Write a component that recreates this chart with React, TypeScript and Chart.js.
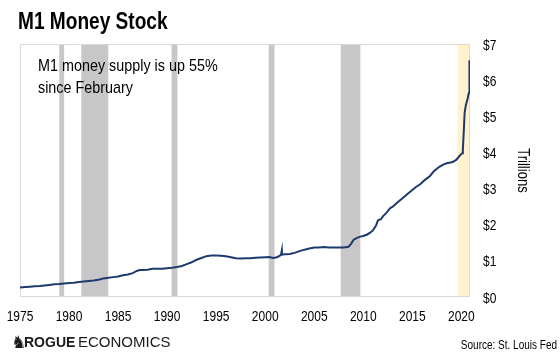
import React, { useEffect, useRef } from "react";
import { Chart, registerables } from "chart.js";

Chart.register(...registerables);

// Decimal year of each observation
const years = [
  1975.0, 1975.5, 1976.0, 1976.5, 1977.0, 1977.5, 1978.0, 1978.5, 1979.0, 1979.5,
  1980.0, 1980.5, 1981.0, 1981.5, 1982.0, 1982.5, 1983.0, 1983.5, 1984.0, 1984.5,
  1985.0, 1985.5, 1986.0, 1986.5, 1986.9, 1987.2, 1987.5, 1988.0, 1988.5, 1989.0,
  1989.5, 1990.0, 1990.5, 1991.0, 1991.5, 1992.0, 1992.5, 1993.0, 1993.5, 1994.0,
  1994.5, 1995.0, 1995.5, 1996.0, 1996.5, 1997.0, 1997.5, 1998.0, 1998.5, 1999.0,
  1999.5, 2000.0, 2000.4, 2000.8, 2001.2, 2001.6, 2001.7, 2001.72, 2002.0, 2002.5,
  2003.0, 2003.5, 2004.0, 2004.5, 2005.0, 2005.5, 2006.0, 2006.5, 2007.0, 2007.5,
  2008.0, 2008.5, 2008.75, 2009.0, 2009.3, 2009.7, 2010.0, 2010.4, 2010.7, 2011.0,
  2011.3, 2011.5, 2011.8, 2012.0, 2012.4, 2012.7, 2013.0, 2013.5, 2014.0, 2014.5,
  2015.0, 2015.4, 2015.8, 2016.2, 2016.8, 2017.2, 2017.5, 2017.8, 2018.2, 2018.5,
  2018.9, 2019.15, 2019.5, 2019.8, 2020.1, 2020.15, 2020.25, 2020.33, 2020.45, 2020.55,
  2020.65, 2020.72, 2020.78, 2020.81, 2020.84,
];

// M1 money stock, trillions of dollars
const m1Trillions = [
  0.26, 0.275, 0.285, 0.295, 0.305, 0.32, 0.335, 0.35, 0.36, 0.375,
  0.385, 0.395, 0.415, 0.43, 0.445, 0.455, 0.48, 0.515, 0.53, 0.55,
  0.565, 0.6, 0.625, 0.66, 0.72, 0.745, 0.75, 0.755, 0.78, 0.785,
  0.78, 0.795, 0.81, 0.83, 0.86, 0.91, 0.96, 1.03, 1.08, 1.13,
  1.145, 1.145, 1.14, 1.125, 1.1, 1.075, 1.065, 1.07, 1.075, 1.085,
  1.095, 1.1, 1.105, 1.08, 1.1, 1.16, 1.3, 1.17, 1.18, 1.19,
  1.22, 1.27, 1.31, 1.34, 1.37, 1.37, 1.38, 1.37, 1.37, 1.37,
  1.37, 1.39, 1.47, 1.58, 1.63, 1.67, 1.69, 1.73, 1.78, 1.85,
  1.98, 2.12, 2.15, 2.23, 2.34, 2.45, 2.5, 2.62, 2.73, 2.85,
  2.96, 3.05, 3.12, 3.22, 3.35, 3.48, 3.55, 3.61, 3.67, 3.7,
  3.72, 3.74, 3.8, 3.9, 3.98, 4.07, 4.6, 5.09, 5.3, 5.4,
  5.5, 5.6, 5.65, 6.0, 6.55,
];

// Shaded recession periods as drawn in the chart (decimal years)
const recessionStarts = [1979.0, 1981.25, 1990.45, 2000.35, 2007.7];
const recessionEnds = [1979.5, 1984.0, 1991.05, 2000.95, 2009.7];
const covidStart = 2019.6;
const covidEnd = 2020.88;

const xMin = 1975.0;
const xMax = 2020.88;
const xTickYears = [1975, 1980, 1985, 1990, 1995, 2000, 2005, 2010, 2015, 2020];
const xTickLabels = ["1975", "1980", "1985", "1990", "1995", "2000", "2005", "2010", "2015", "2020"];
const yTickValues = [0, 1, 2, 3, 4, 5, 6, 7];
const yTickLabels = ["$0", "$1", "$2", "$3", "$4", "$5", "$6", "$7"];

const chartTitle = "M1 Money Stock";
const noteLines = ["M1 money supply is up 55%", "since February"];
const axisTitle = "Trillions";
const sourceText = "Source: St. Louis Fed";
const logoBold = "ROGUE";
const logoRegular = "ECONOMICS";

const SANS = '"Liberation Sans", Arial, sans-serif';

// draw horizontally condensed text (the original uses a narrow typeface)
function narrowText(
  ctx: CanvasRenderingContext2D,
  text: string,
  x: number,
  y: number,
  font: string,
  align: CanvasTextAlign,
  factor: number,
  rotate = 0
) {
  ctx.save();
  ctx.translate(x, y);
  if (rotate) ctx.rotate(rotate);
  ctx.scale(factor, 1);
  ctx.font = font;
  ctx.textAlign = align;
  ctx.fillText(text, 0, 0);
  ctx.restore();
}

const decorPlugin = {
  id: "decor",
  beforeDatasetsDraw(chart: any) {
    const { ctx, chartArea: a, scales } = chart;
    const x = scales.x;
    ctx.save();
    ctx.fillStyle = "#C8C6C8";
    for (let i = 0; i < recessionStarts.length; i++) {
      const x0 = x.getPixelForValue(recessionStarts[i]);
      const x1 = x.getPixelForValue(recessionEnds[i]);
      ctx.fillRect(x0, a.top, x1 - x0, a.bottom - a.top);
    }
    ctx.fillStyle = "#FFF2CC";
    const c0 = x.getPixelForValue(covidStart);
    const c1 = Math.min(x.getPixelForValue(covidEnd), a.right);
    ctx.fillRect(c0, a.top, c1 - c0, a.bottom - a.top);

    ctx.strokeStyle = "#D9D9D9";
    ctx.lineWidth = 1;
    ctx.strokeRect(a.left + 0.5, a.top + 0.5, a.right - a.left - 1, a.bottom - a.top - 1);

    ctx.fillStyle = "#000";
    ctx.textBaseline = "alphabetic";
    narrowText(ctx, noteLines[0], 38, 71, `17px ${SANS}`, "left", 0.845);
    narrowText(ctx, noteLines[1], 38, 93, `17px ${SANS}`, "left", 0.845);
    ctx.restore();
  },
  afterDraw(chart: any) {
    const { ctx, chartArea: a, scales } = chart;
    ctx.save();
    ctx.fillStyle = "#000";
    ctx.textBaseline = "alphabetic";

    // axis tick labels placed through the scales
    xTickYears.forEach((v, i) => {
      narrowText(ctx, xTickLabels[i], scales.x.getPixelForValue(v), 321, `15px ${SANS}`, "center", 0.8);
    });
    yTickValues.forEach((v, i) => {
      narrowText(ctx, yTickLabels[i], a.right + 13, scales.y.getPixelForValue(v) + 5.5, `15px ${SANS}`, "left", 0.8);
    });
    ctx.textBaseline = "middle";
    narrowText(ctx, axisTitle, 522, (a.top + a.bottom) / 2, `16px ${SANS}`, "center", 0.82, Math.PI / 2);
    ctx.textBaseline = "alphabetic";

    narrowText(ctx, chartTitle, 18, 29, `bold 23px ${SANS}`, "left", 0.83);

    ctx.fillStyle = "#1A1A1A";
    ctx.font = `17px "DejaVu Sans", sans-serif`;
    ctx.textAlign = "left";
    ctx.fillText("\u265E", 11, 348);
    ctx.font = `bold 14px ${SANS}`;
    ctx.fillText(logoBold, 24, 347);
    ctx.font = `15px ${SANS}`;
    ctx.fillText(logoRegular, 78, 347);

    ctx.fillStyle = "#000";
    narrowText(ctx, sourceText, 557, 349, `12.5px ${SANS}`, "right", 0.8);
    ctx.restore();
  },
};

export default function App() {
  const canvasRef = useRef<HTMLCanvasElement | null>(null);

  useEffect(() => {
    const canvas = canvasRef.current;
    if (!canvas) return;
    const points = years.map((yr, i) => ({ x: yr, y: m1Trillions[i] }));
    const chart = new Chart(canvas, {
      type: "line",
      data: {
        datasets: [
          {
            label: "M1",
            data: points,
            borderColor: "#1C3A6E",
            borderWidth: 2,
            pointRadius: 0,
            tension: 0,
            fill: false,
          },
        ],
      },
      options: {
        animation: false,
        responsive: false,
        devicePixelRatio: 1,
        layout: { padding: { left: 20, top: 44, right: 0, bottom: 0 } },
        plugins: {
          legend: { display: false },
          tooltip: { enabled: false },
          title: { display: false },
        },
        scales: {
          x: {
            type: "linear",
            min: xMin,
            max: xMax,
            afterBuildTicks: (s: any) => {
              s.ticks = xTickYears.map((v) => ({ value: v }));
            },
            afterFit: (s: any) => {
              s.height = 58;
            },
            ticks: { display: false },
            grid: { display: false, drawTicks: false },
            border: { display: false },
          },
          y: {
            position: "right",
            min: 0,
            max: 7,
            afterBuildTicks: (s: any) => {
              s.ticks = yTickValues.map((v) => ({ value: v }));
            },
            afterFit: (s: any) => {
              s.width = 90;
            },
            ticks: { display: false },
            grid: { display: false, drawTicks: false },
            border: { display: false },
            title: { display: false, text: axisTitle },
          },
        },
      },
      plugins: [decorPlugin],
    });
    return () => chart.destroy();
  }, []);

  return (
    <div style={{ position: "absolute", left: 0, top: 0, width: 560, height: 355, background: "#fff" }}>
      <canvas ref={canvasRef} width={560} height={355} style={{ width: 560, height: 355, display: "block" }} />
    </div>
  );
}
